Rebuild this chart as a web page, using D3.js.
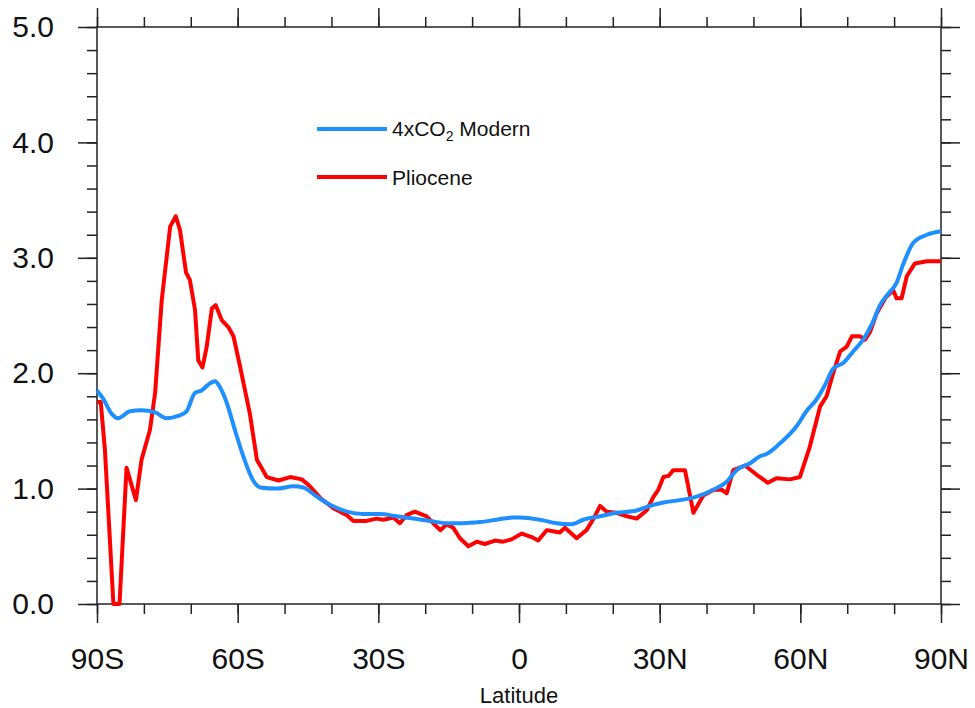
<!DOCTYPE html>
<html>
<head>
<meta charset="utf-8">
<script src="https://cdn.jsdelivr.net/npm/d3@7"></script>
<style>
  body { margin: 0; background: #fff; }
  svg { display: block; font-family: "Liberation Sans", Arial, Helvetica, sans-serif; }
</style>
</head>
<body>
<svg id="chart" width="975" height="708"></svg>
<script>
// latitudes in degrees (negative = south)
const modernLat = [-90, -88.7, -86.9, -85.5, -83, -80.5, -77.6, -75.2, -72.7, -70.9, -69.1, -67.7, -66.3, -64.8, -63.8, -62.3, -60.6, -58.8, -56.7, -55.2, -51.7, -48.1, -46, -43.1, -40.3, -36.7, -33.2, -29.6, -26.1, -22.5, -19, -15.4, -11.9, -8.3, -4.8, -1.2, 0.2, 4.5, 8, 11.2, 13.7, 17.3, 20.8, 25.1, 27.9, 30.8, 34.3, 37.9, 41.4, 44.3, 46.4, 49.3, 51.4, 52.8, 55.6, 59.2, 61.3, 63.4, 65.3, 67, 69.2, 71.3, 73.4, 75.2, 77, 78.8, 80.5, 82, 84.1, 87, 90];
const modernVal = [1.85, 1.78, 1.65, 1.61, 1.67, 1.68, 1.66, 1.61, 1.63, 1.67, 1.83, 1.85, 1.9, 1.93, 1.88, 1.74, 1.51, 1.28, 1.07, 1.01, 1.0, 1.02, 1.01, 0.93, 0.86, 0.8, 0.78, 0.78, 0.76, 0.74, 0.72, 0.7, 0.7, 0.71, 0.73, 0.75, 0.75, 0.73, 0.7, 0.69, 0.73, 0.76, 0.79, 0.81, 0.85, 0.88, 0.9, 0.93, 0.99, 1.06, 1.16, 1.22, 1.28, 1.3, 1.39, 1.54, 1.67, 1.77, 1.9, 2.04, 2.09, 2.19, 2.29, 2.42, 2.59, 2.69, 2.78, 2.95, 3.13, 3.2, 3.23];

const plioLat = [-90, -89.2, -88.3, -86.5, -85.2, -83.7, -81.7, -80.5, -78.7, -77.6, -76.2, -74.4, -73.2, -72.3, -71, -70.2, -69.1, -68.4, -67.5, -66.6, -65.5, -64.7, -63.4, -62, -60.9, -59.5, -57.4, -55.9, -53.8, -51.3, -48.8, -46.3, -44.6, -42.4, -39.6, -36.7, -35.3, -32.5, -30.4, -28.9, -26.8, -25.4, -24, -22.2, -19.7, -18.3, -16.8, -15.4, -14, -12.6, -10.8, -9, -7.3, -5.1, -3.4, -1.6, 0.6, 2.7, 4.1, 5.9, 7.3, 8.7, 9.8, 12.3, 14.4, 15.9, 17.3, 18.7, 20.8, 23, 25.1, 27.2, 28.7, 29.7, 30.8, 31.9, 32.9, 35.4, 37.2, 39.3, 41.5, 43.2, 44.3, 45.7, 48.2, 50.7, 53.1, 54.9, 57.8, 59.9, 62, 64.2, 65.6, 67, 68.5, 69.9, 71, 72.7, 73.8, 74.9, 76.3, 78.1, 79.8, 80.5, 81.6, 82.7, 84.4, 87, 90];
const plioVal = [1.75, 1.75, 1.33, 0.0, 0.0, 1.18, 0.9, 1.25, 1.51, 1.83, 2.63, 3.27, 3.36, 3.24, 2.87, 2.81, 2.55, 2.11, 2.05, 2.23, 2.56, 2.59, 2.46, 2.4, 2.32, 2.06, 1.65, 1.25, 1.1, 1.07, 1.1, 1.08, 1.02, 0.92, 0.83, 0.77, 0.72, 0.72, 0.74, 0.73, 0.75, 0.7, 0.77, 0.8, 0.76, 0.7, 0.64, 0.69, 0.66, 0.57, 0.5, 0.54, 0.52, 0.55, 0.54, 0.56, 0.61, 0.58, 0.55, 0.64, 0.63, 0.62, 0.66, 0.57, 0.64, 0.74, 0.85, 0.8, 0.79, 0.76, 0.74, 0.81, 0.93, 0.99, 1.1, 1.11, 1.16, 1.16, 0.79, 0.94, 0.99, 0.99, 0.96, 1.16, 1.2, 1.12, 1.05, 1.09, 1.08, 1.1, 1.36, 1.71, 1.8, 2.0, 2.19, 2.23, 2.32, 2.32, 2.29, 2.36, 2.52, 2.65, 2.72, 2.65, 2.65, 2.84, 2.95, 2.97, 2.97];

const xMajor = [-90, -60, -30, 0, 30, 60, 90];
const xLabels = ["90S", "60S", "30S", "0", "30N", "60N", "90N"];
const yMajor = [0, 1, 2, 3, 4, 5];

const svg = d3.select('#chart');
const margin = { top: 27, right: 34, bottom: 104, left: 97 };
const W = 975 - margin.left - margin.right;
const H = 708 - margin.top - margin.bottom;

const x = d3.scaleLinear().domain([-90, 90]).range([0, W]);
const y = d3.scaleLinear().domain([0, 5]).range([H, 0]);

const g = svg.append('g').attr('transform', `translate(${margin.left},${margin.top})`);

const xMinor = d3.range(-90, 91, 10);
const yMinor = d3.range(0, 5.01, 0.2);

function styleAxis(sel) {
  sel.select('.domain').remove();
  sel.selectAll('line').attr('stroke', '#222').attr('stroke-width', 1.5);
  sel.selectAll('text').attr('fill', '#111').attr('font-size', 30);
}

// minor ticks
g.append('g').attr('transform', `translate(0,${H})`)
  .call(d3.axisBottom(x).tickValues(xMinor).tickSize(10).tickFormat(''))
  .call(styleAxis);
g.append('g')
  .call(d3.axisTop(x).tickValues(xMinor).tickSize(10).tickFormat(''))
  .call(styleAxis);
g.append('g')
  .call(d3.axisLeft(y).tickValues(yMinor).tickSize(10).tickFormat(''))
  .call(styleAxis);
g.append('g').attr('transform', `translate(${W},0)`)
  .call(d3.axisRight(y).tickValues(yMinor).tickSize(10).tickFormat(''))
  .call(styleAxis);

// major ticks
g.append('g').attr('transform', `translate(0,${H})`)
  .call(d3.axisBottom(x).tickValues(xMajor).tickSize(19).tickPadding(25)
    .tickFormat((d, i) => xLabels[i]))
  .call(styleAxis);
g.append('g')
  .call(d3.axisTop(x).tickValues(xMajor).tickSize(19).tickFormat(''))
  .call(styleAxis);
g.append('g')
  .call(d3.axisLeft(y).tickValues(yMajor).tickSize(19).tickPadding(24)
    .tickFormat(d3.format('.1f')))
  .call(styleAxis);
g.append('g').attr('transform', `translate(${W},0)`)
  .call(d3.axisRight(y).tickValues(yMajor).tickSize(19).tickFormat(''))
  .call(styleAxis);

// frame
g.append('rect')
  .attr('width', W).attr('height', H)
  .attr('fill', 'none').attr('stroke', '#222').attr('stroke-width', 1.5);

// curves
const lineModern = d3.line().x((d, i) => x(modernLat[i])).y(d => y(d)).curve(d3.curveMonotoneX);
const linePlio = d3.line().x((d, i) => x(plioLat[i])).y(d => y(d)).curve(d3.curveLinear);

g.append('path').datum(plioVal)
  .attr('d', linePlio)
  .attr('fill', 'none').attr('stroke', '#ff0000').attr('stroke-width', 4)
  .attr('stroke-linejoin', 'round');
g.append('path').datum(modernVal)
  .attr('d', lineModern)
  .attr('fill', 'none').attr('stroke', '#1e8fff').attr('stroke-width', 4)
  .attr('stroke-linejoin', 'round');

// x axis title
g.append('text')
  .attr('x', x(0)).attr('y', H + 99)
  .attr('text-anchor', 'middle').attr('font-size', 22).attr('fill', '#111')
  .text('Latitude');

// legend
const legend = svg.append('g').attr('transform', 'translate(317,129)');
legend.append('line').attr('x1', 0).attr('x2', 70).attr('y1', 0).attr('y2', 0)
  .attr('stroke', '#1e8fff').attr('stroke-width', 4);
const t1 = legend.append('text').attr('x', 75).attr('y', 7).attr('font-size', 21).attr('fill', '#111');
t1.append('tspan').text('4xCO');
t1.append('tspan').attr('font-size', 14).attr('dy', 5).text('2');
t1.append('tspan').attr('dy', -5).text(' Modern');

legend.append('line').attr('x1', 0).attr('x2', 70).attr('y1', 48).attr('y2', 48)
  .attr('stroke', '#ff0000').attr('stroke-width', 4);
legend.append('text').attr('x', 75).attr('y', 56).attr('font-size', 21).attr('fill', '#111')
  .text('Pliocene');
</script>
</body>
</html>
